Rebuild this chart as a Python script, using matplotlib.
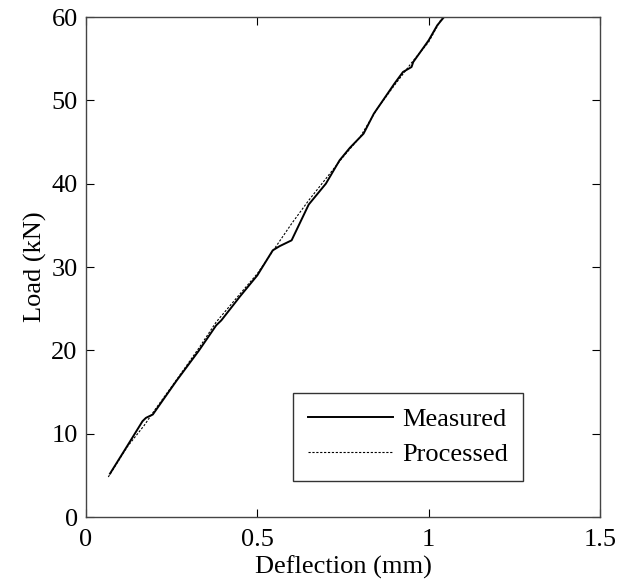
import matplotlib
matplotlib.use("Agg")
import matplotlib.pyplot as plt

measured_x = [0.07, 0.12, 0.165, 0.175, 0.195, 0.265, 0.33, 0.38, 0.395, 0.45, 0.50, 0.545,
              0.565, 0.60, 0.65, 0.70, 0.74, 0.77, 0.81, 0.84, 0.90, 0.925, 0.95, 0.955,
              1.00, 1.025, 1.045]
measured_y = [5.2, 8.5, 11.5, 11.9, 12.3, 16.4, 20.0, 23.0, 23.6, 26.5, 29.0, 32.0,
              32.5, 33.2, 37.5, 40.0, 42.8, 44.3, 46.0, 48.4, 52.0, 53.4, 54.0, 54.6,
              57.2, 59.0, 60.0]

processed_x = [0.065, 0.12, 0.17, 0.20, 0.27, 0.33, 0.38, 0.45, 0.50, 0.55, 0.60, 0.65,
               0.70, 0.75, 0.80, 0.85, 0.90, 0.95, 1.00, 1.04]
processed_y = [4.8, 8.4, 11.0, 12.8, 16.8, 20.3, 23.4, 26.8, 29.2, 32.2, 35.2, 38.0,
               40.6, 43.2, 45.6, 49.0, 51.8, 54.5, 57.0, 60.0]

plt.rcParams['font.family'] = ['Liberation Serif', 'DejaVu Serif']

fig = plt.figure(figsize=(6.18, 5.84), dpi=100)
ax = fig.add_axes([86/618, 67/584, 514/618, 500/584])

ax.plot(measured_x, measured_y, color='black', lw=1.4, label='Measured')
ax.plot(processed_x, processed_y, color='black', lw=0.8, ls=(0, (2, 1.5)), label='Processed')

ax.set_xlim(0, 1.5)
ax.set_ylim(0, 60)
ax.set_xticks([0, 0.5, 1, 1.5])
ax.set_xticklabels(['0', '0.5', '1', '1.5'])
ax.set_yticks([0, 10, 20, 30, 40, 50, 60])
ax.tick_params(direction='in', top=True, right=True, labelsize=19, length=6, width=0.8)
ax.tick_params(axis='x', pad=9)
ax.tick_params(axis='y', pad=6)
for s in ax.spines.values():
    s.set_color('#444444')
    s.set_linewidth(1.0)
ax.set_xlabel('Deflection (mm)', fontsize=19, labelpad=3)
ax.set_ylabel('Load (kN)', fontsize=19, labelpad=3)

leg = ax.legend(loc='lower right', bbox_to_anchor=(0.850, 0.072), borderaxespad=0,
                fancybox=False, edgecolor='#333333', fontsize=19, handlelength=3.25,
                handletextpad=0.35, framealpha=1, borderpad=0.55, labelspacing=0.45)
leg.get_frame().set_linewidth(1.0)

fig.savefig('out.png', dpi=100)
